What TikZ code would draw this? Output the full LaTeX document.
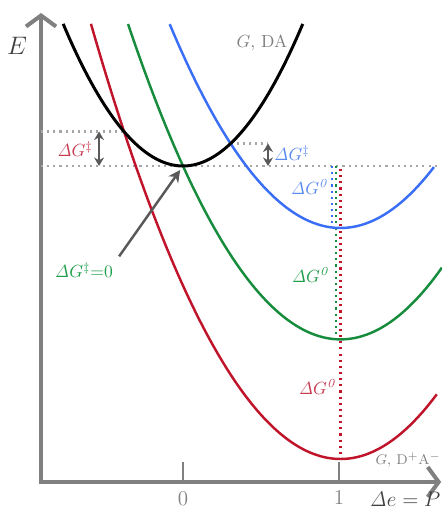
\documentclass[tikz,border=0pt]{standalone}
\usepackage{amsmath,amssymb}
\usepackage{xcolor}
\usepackage{tikz}
\usetikzlibrary{arrows.meta,intersections}

\definecolor{axisgray}{HTML}{808080}
\definecolor{dotgray}{HTML}{A6A6A6}
\definecolor{pointgray}{HTML}{595959}
\definecolor{prodred}{HTML}{C0142B}
\definecolor{prodblue}{HTML}{3A6EF6}
\definecolor{prodgreen}{HTML}{168C3C}
\definecolor{lblred}{HTML}{C83A50}
\definecolor{lblblue}{HTML}{5A8AF0}
\definecolor{lblgreen}{HTML}{1E9E4A}

\begin{document}
\begin{tikzpicture}[
    x=3.12cm, y=1cm,
    axis/.style={draw=axisgray, line width=2.3pt, line join=miter,
        {Straight Barb[length=2.2mm,width=6mm]}-{Straight Barb[length=2.2mm,width=6mm]}},
    tick/.style={draw=axisgray, line width=1.3pt},
    curve/.style={line width=1.4pt, smooth, samples=80},
    guide/.style={draw=dotgray, line width=1.3pt, dash pattern=on 1.2pt off 2.3pt},
    gap/.style={draw=pointgray, line width=1.2pt, {Stealth[length=1.7mm,width=2mm]}-{Stealth[length=1.7mm,width=2mm]}},
    pointer/.style={draw=pointgray, line width=1.4pt, -{Stealth[length=2.4mm,width=2.4mm]}, shorten >=2.8pt},
    lbl/.style={font=\normalsize}
]
    \useasboundingbox (-1.173,-0.54) rectangle (1.660,9.64);

    % axes
    \coordinate (origin) at (-0.91,0);
    \coordinate (etop) at (-0.91,9.38);
    \coordinate (qend) at (1.655,0);
    \draw[axis] (etop) -- (origin) -- (qend);
    \draw[tick] (0,0) -- (0,0.4);
    \draw[tick] (1,0) -- (1,0.4);
    \node[text=axisgray, font=\large] (tick0) at (0,-0.34) {0};
    \node[text=axisgray, font=\large] (tick1) at (1,-0.30) {1};
    \node[text=black!75, font=\Large] (elabel) at (-1.064,8.72) {$E$};
    \node[text=black!75, font=\large, anchor=base east, inner xsep=0pt] (qlabel) at (1.652,-0.49) {$\mathit{\Delta}e = P$};

    % parabolas
    \path[name path=reactant] plot[domain=-0.768:0.768, smooth, samples=80] (\x, {6.32+4.82*\x*\x});
    \path[name path=prodb] plot[domain=-0.085:1.609, smooth, samples=80] (\x, {5.08+3.4*(\x-1.01)^2});
    \path[name path=prodr] plot[domain=-0.59:1.628, smooth, samples=80] (\x, {0.46+3.4*(\x-1.01)^2});
    \path[name intersections={of=reactant and prodr, by=xred}];
    \path[name intersections={of=reactant and prodb, by=xblue}];
    \coordinate (bmin) at (0,6.32);
    \coordinate (gend) at (1.647,6.32);
    \coordinate (redarr) at (-0.538,6.32);
    \coordinate (bluearr) at (0.545,6.32);

    % guides
    \draw[guide] (origin |- xred) -- (xred);
    \draw[guide] (origin |- bmin) -- (gend);
    \draw[guide] (xblue) -- (bluearr |- xblue);
    \draw[guide, draw=prodblue] (0.957,6.32) -- (0.957,5.09);
    \draw[guide, draw=prodgreen] (0.983,6.32) -- (0.983,2.86);
    \draw[guide, draw=prodred] (1.01,6.26) -- (1.01,0.46);
    \draw[gap] (redarr |- xred) -- (redarr);
    \draw[gap] (bluearr |- xblue) -- (bluearr);

    \draw[curve, prodred] plot[domain=-0.59:1.628] (\x, {0.46+3.4*(\x-1.01)^2});
    \draw[curve, prodgreen] plot[domain=-0.352:1.66] (\x, {2.852+3.4*(\x-1.01)^2});
    \draw[curve, prodblue] plot[domain=-0.085:1.609] (\x, {5.08+3.4*(\x-1.01)^2});
    \draw[curve, black, line width=1.7pt] plot[domain=-0.768:0.768] (\x, {6.32+4.82*\x*\x});

    % labels
    \node[lbl, text=lblred] (dgred) at (-0.692,6.66) {$\mathit{\Delta} G^{\ddagger}$};
    \node[lbl, text=lblblue, anchor=west] (dgblue) at (0.545,6.58) {$\mathit{\Delta} G^{\ddagger}$};
    \node[lbl, text=lblblue] (dg0blue) at (0.814,5.90) {$\mathit{\Delta} G^{\mathit{0}}$};
    \node[lbl, text=lblgreen] (dg0green) at (0.820,4.14) {$\mathit{\Delta} G^{\mathit{0}}$};
    \node[lbl, text=lblred] (dg0red) at (0.865,1.90) {$\mathit{\Delta} G^{\mathit{0}}$};
    \node[lbl, text=lblgreen] (dgzero) at (-0.635,4.24) {$\mathit{\Delta} G^{\ddagger}{=}0$};
    \node[font=\normalsize, text=axisgray] (reactlbl) at (0.506,8.78) {$G$, DA};
    \node[font=\footnotesize, text=axisgray, anchor=east, inner xsep=0.5pt] (prodlbl) at (1.660,0.44) {$G$, D$^+$A$^-$};

    \draw[pointer] (dgzero.north east) -- (bmin);
\end{tikzpicture}
\end{document}
